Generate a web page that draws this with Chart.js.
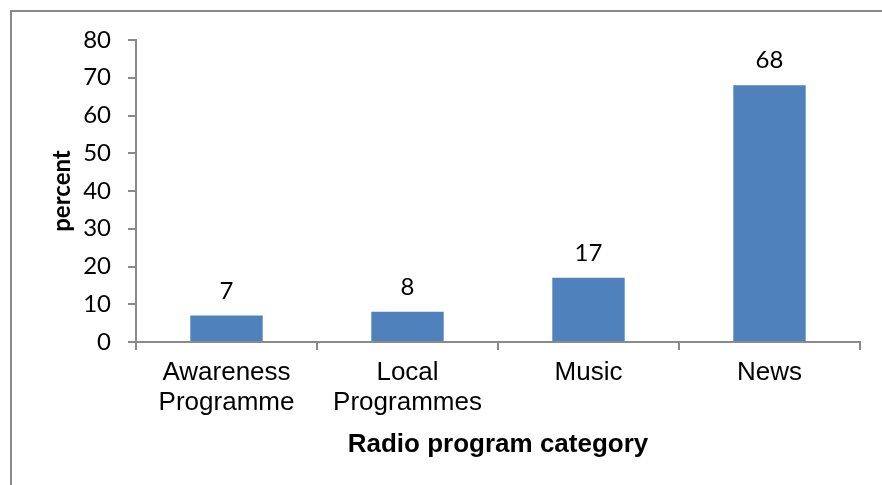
<!DOCTYPE html>
<html>
<head>
<meta charset="utf-8">
<script src="https://cdn.jsdelivr.net/npm/chart.js@4"></script>
<style>
  html, body { margin: 0; padding: 0; background: #fff; }
  #wrap { width: 882px; height: 485px; }
</style>
</head>
<body>
<div id="wrap"><canvas id="radio-chart"></canvas></div>
<script>
const categories = [['Awareness', 'Programme'], ['Local', 'Programmes'], 'Music', 'News'];
const percent = [7, 8, 17, 68];
const yTicks = [0, 10, 20, 30, 40, 50, 60, 70, 80];

const axisGray = '#8a8a8a';

// frame around the plot (left and top edges only are visible)
const framePlugin = {
    id: 'frame',
    beforeDraw(chart) {
        const c = chart.ctx;
        c.save();
        c.strokeStyle = axisGray;
        c.lineWidth = 2;
        c.beginPath();
        c.moveTo(11, chart.height);
        c.lineTo(11, 11);
        c.lineTo(chart.width, 11);
        c.stroke();
        c.restore();
    }
};

// value labels above each bar
const valueLabels = {
    id: 'valueLabels',
    afterDatasetsDraw(chart) {
        const c = chart.ctx;
        const meta = chart.getDatasetMeta(0);
        c.save();
        c.font = '24px Lato';
        c.fillStyle = '#000';
        c.textAlign = 'center';
        c.textBaseline = 'alphabetic';
        meta.data.forEach((bar, i) => {
            c.fillText(String(percent[i]), bar.x, bar.y - 17);
        });
        c.restore();
    }
};

var ctx = document.getElementById('radio-chart');

const radio_chart = new Chart(ctx, {
    type: 'bar',
    data: {
        labels: categories,
        datasets: [{
            label: 'percent',
            data: percent,
            backgroundColor: '#4F81BD',
            barPercentage: 0.4,
            categoryPercentage: 1.0
        }]
    },
    options: {
        responsive: true,
        maintainAspectRatio: false,
        animation: false,
        layout: {
            padding: { left: 0, top: 40, right: 22, bottom: 0 }
        },
        plugins: {
            legend: { display: false },
            tooltip: { enabled: false }
        },
        scales: {
            x: {
                grid: {
                    drawOnChartArea: false,
                    drawTicks: true,
                    tickLength: 8,
                    color: axisGray,
                    lineWidth: 2
                },
                border: { color: axisGray, width: 2 },
                ticks: {
                    color: '#000',
                    padding: 8,
                    maxRotation: 0,
                    autoSkip: false,
                    font: { family: 'Liberation Sans', size: 26, lineHeight: 1.15 }
                },
                title: {
                    display: true,
                    text: 'Radio program category',
                    color: '#000',
                    padding: { top: 0, bottom: 25 },
                    font: { family: 'Liberation Sans', size: 26, weight: 'bold', lineHeight: 1.2 }
                },
                afterFit(scale) { scale.height = 143; }
            },
            y: {
                min: 0,
                max: 80,
                afterBuildTicks(scale) {
                    scale.ticks = yTicks.map(v => ({ value: v }));
                },
                grid: {
                    drawOnChartArea: false,
                    drawTicks: true,
                    tickLength: 8,
                    color: axisGray,
                    lineWidth: 2
                },
                border: { color: axisGray, width: 2 },
                ticks: {
                    color: '#000',
                    padding: 17,
                    font: { family: 'Lato', size: 24 }
                },
                title: {
                    display: true,
                    text: 'percent',
                    color: '#000',
                    padding: { top: 48, bottom: 0 },
                    font: { family: 'Lato', size: 24, weight: 'bold', lineHeight: 1.2 }
                },
                afterFit(scale) { scale.width = 136; }
            }
        }
    },
    plugins: [framePlugin, valueLabels]
});
</script>
</body>
</html>
